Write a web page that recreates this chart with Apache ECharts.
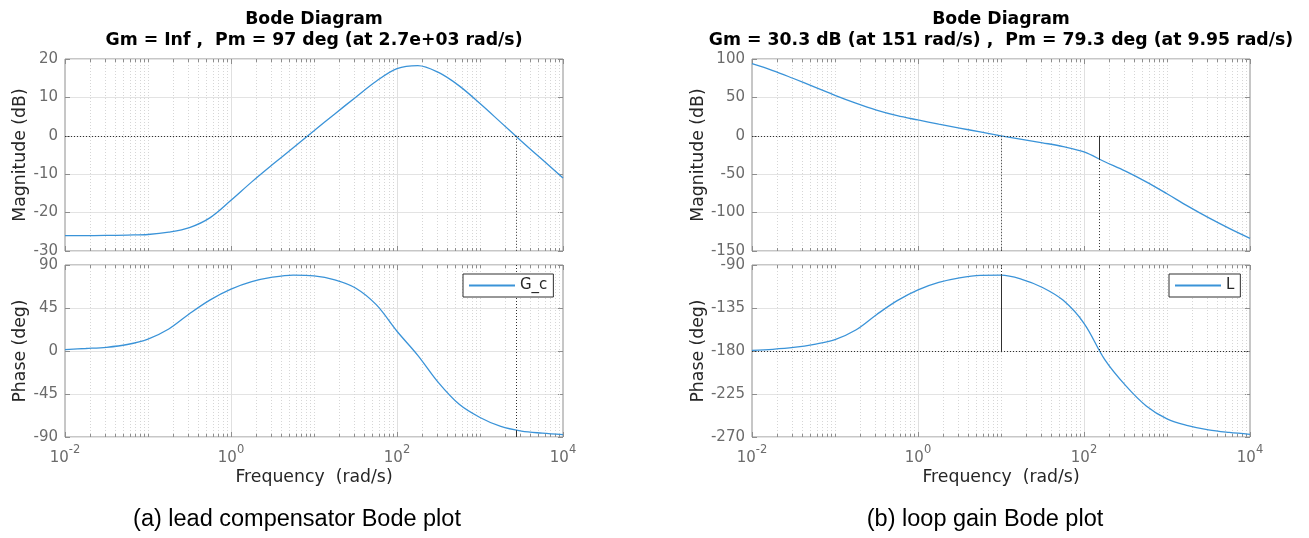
<!DOCTYPE html>
<html>
<head>
<meta charset="utf-8">
<script src="https://cdn.jsdelivr.net/npm/echarts@6/dist/echarts.min.js"></script>
<style>
html,body{margin:0;padding:0;background:#fff;}
#chart{width:1309px;height:538px;}
</style>
</head>
<body>
<div id="chart"></div>
<script>
// ---------- data ----------
// frequencies (rad/s) at which the curves were read, quarter-decade steps
const freqs = [0.01, 0.0178, 0.0316, 0.0562, 0.1, 0.178, 0.316, 0.562, 1, 1.78, 3.16, 5.62, 10, 17.8, 31.6, 56.2, 100, 178, 316, 562, 1000, 1780, 3160, 5620, 10000];
// (a) lead compensator G_c
const gcMagDb    = [-26.0, -26.0, -25.95, -25.85, -25.7, -25.1, -23.9, -21.3, -16.8, -12.0, -7.5, -3.1, 1.3, 5.7, 10.0, 14.2, 17.5, 18.3, 16.5, 13.0, 8.4, 3.5, -1.4, -6.2, -11.0];
const gcPhaseDeg = [1.5, 2.6, 3.9, 6.8, 12.5, 23, 39, 53.5, 64.7, 72.5, 77.2, 79.5, 78.7, 74.5, 66, 48.5, 20.7, -4.5, -33.1, -55.8, -69.6, -79, -83.8, -86, -87.6];
// (b) loop gain L
const lMagDb     = [93.9, 85.0, 74.6, 63.8, 52.7, 42.5, 33.5, 26.2, 20.6, 15.2, 10.1, 5.0, 0, -4.6, -9.1, -14.0, -21.0, -33.8, -46, -60, -75.5, -91.5, -106.5, -120.5, -133.5];
const lPhaseDeg  = [-179.3, -178.2, -176.3, -173, -168, -158, -142, -127.3, -116, -108.3, -103.5, -100.9, -100.7, -105, -113.5, -127, -151, -189, -216, -237.5, -251, -258, -262.5, -265.2, -267.2];

// stability margins (from the titles)
const gcCrossFreq = 2700;     // 0 dB crossing of G_c
const gcCrossPhase = -83;     // phase there (Pm = 97 deg)
const lCrossFreq = 9.95;      // 0 dB crossing of L
const lCrossPhase = -100.7;   // phase there (Pm = 79.3 deg)
const lPhase180Freq = 151;    // -180 deg crossing of L
const lPhase180Mag = -30.3;   // magnitude there (Gm = 30.3 dB)

// axis ticks
const xTickExponents = [-2, 0, 2, 4];
const gcMagTicks = [-30, 20, 10];     // min, max, step
const gcPhaseTicks = [-90, 90, 45];
const lMagTicks = [-150, 100, 50];
const lPhaseTicks = [-270, -90, 45];

// texts
const titles = [
  'Bode Diagram\nGm = Inf ,  Pm = 97 deg (at 2.7e+03 rad/s)',
  'Bode Diagram\nGm = 30.3 dB (at 151 rad/s) ,  Pm = 79.3 deg (at 9.95 rad/s)'
];
const captions = ['(a) lead compensator Bode plot', '(b) loop gain Bode plot'];
const seriesNames = ['G_c', 'L'];
const magLabel = 'Magnitude (dB)';
const phaseLabel = 'Phase (deg)';
const freqLabel = 'Frequency  (rad/s)';

// ---------- chart ----------
const FONT = 'DejaVu Sans';
const AX = '#8e8e8e';
const LINE = '#3a93d8';
const DARK = '#303030';

function zip(xs, ys) { return xs.map((x, i) => [x, ys[i]]); }

// minor/major x gridline positions (decoration of the log axis)
const xGridFreqs = [];
for (let k = -2; k < 4; k++) {
  for (let m = 1; m < 10; m++) xGridFreqs.push(m * Math.pow(10, k));
}
xGridFreqs.push(10000);

const grids = [
  {left: 65, top: 59, width: 498, height: 192},
  {left: 65, top: 265, width: 498, height: 172},
  {left: 752, top: 59, width: 498, height: 192},
  {left: 752, top: 265, width: 498, height: 172}
].map(g => Object.assign(g, {show: true, borderColor: AX, borderWidth: 1, backgroundColor: 'rgba(0,0,0,0)'}));

const xAxes = [0, 1, 2, 3].map(i => ({
  type: 'log', logBase: 10, gridIndex: i, min: 0.01, max: 10000,
  axisLine: {show: false}, axisTick: {show: false}, splitLine: {show: false},
  axisLabel: {
    show: i % 2 === 1,
    margin: 7,
    formatter: function (v) {
      const e = Math.round(Math.log10(v));
      if (Math.abs(v / Math.pow(10, e) - 1) > 1e-6) return '';
      if (xTickExponents.indexOf(e) < 0) return '';
      return '{b|10}{s|' + e + '}';
    },
    rich: {
      b: {fontFamily: FONT, fontSize: 15, color: '#6b6b6b', lineHeight: 22, verticalAlign: 'bottom'},
      s: {fontFamily: FONT, fontSize: 11.5, color: '#6b6b6b', lineHeight: 12, verticalAlign: 'top'}
    }
  },
  name: i % 2 === 1 ? freqLabel : '',
  nameLocation: 'middle', nameGap: 32,
  nameTextStyle: {fontFamily: FONT, fontSize: 17.3, color: '#262626'}
}));

function yPair(gi, ticks, name, nameGap) {
  const base = {type: 'value', gridIndex: gi, min: ticks[0], max: ticks[1], interval: ticks[2]};
  return [
    Object.assign({}, base, {
      position: 'left',
      axisLine: {show: false},
      axisTick: {show: true, inside: true, length: 5, lineStyle: {color: AX}},
      axisLabel: {color: '#6b6b6b', fontFamily: FONT, fontSize: 15, margin: 7},
      splitLine: {show: true, lineStyle: {color: '#e3e3e3', width: 1}},
      name: name, nameLocation: 'middle', nameGap: nameGap, nameRotate: 90,
      nameTextStyle: {fontFamily: FONT, fontSize: 17.3, color: '#262626'}
    }),
    Object.assign({}, base, {
      position: 'right',
      axisLine: {show: false},
      axisTick: {show: true, inside: true, length: 5, lineStyle: {color: AX}},
      axisLabel: {show: false},
      splitLine: {show: false}
    })
  ];
}

const yAxes = [].concat(
  yPair(0, gcMagTicks, magLabel, 36),
  yPair(1, gcPhaseTicks, phaseLabel, 36),
  yPair(2, lMagTicks, magLabel, 44),
  yPair(3, lPhaseTicks, phaseLabel, 44)
);

function gridDecor(gi, ticks) {
  const yMin = ticks[0], yMax = ticks[1];
  return {
    type: 'custom', xAxisIndex: gi, yAxisIndex: 2 * gi, coordinateSystem: 'cartesian2d',
    silent: true, z: 1, clip: false, encode: {x: 0, y: 1},
    data: xGridFreqs.map(f => [f, yMin]),
    renderItem: function (params, api) {
      const f = api.value(0);
      const e = Math.log10(f);
      const isDecade = Math.abs(e - Math.round(e)) < 1e-6;
      const isMajor = isDecade && xTickExponents.indexOf(Math.round(e)) >= 0;
      const pb = api.coord([f, yMin]);
      const pt = api.coord([f, yMax]);
      const x = Math.round(pb[0]) + 0.5;
      const atEdge = Math.abs(f / 0.01 - 1) < 1e-6 || Math.abs(f / 10000 - 1) < 1e-6;
      const children = [];
      if (!atEdge) {
        children.push({
          type: 'line', shape: {x1: x, y1: pt[1], x2: x, y2: pb[1]},
          style: isMajor ? {stroke: '#e0e0e0', lineWidth: 1} : {stroke: '#d6d6d6', lineWidth: 1, lineDash: [1, 2]}
        });
      }
      const len = isMajor ? 5 : 3;
      children.push({type: 'line', shape: {x1: x, y1: pb[1], x2: x, y2: pb[1] - len}, style: {stroke: AX, lineWidth: 1}});
      children.push({type: 'line', shape: {x1: x, y1: pt[1], x2: x, y2: pt[1] + len}, style: {stroke: AX, lineWidth: 1}});
      return {type: 'group', children: children};
    }
  };
}

const dotted = {color: DARK, width: 1, type: [1, 2]};
const solid = {color: DARK, width: 1, type: 'solid'};
function seg(x1, y1, x2, y2, style) {
  return [{coord: [x1, y1], lineStyle: style}, {coord: [x2, y2]}];
}
function markLines(items) {
  return {symbol: 'none', silent: true, label: {show: false}, emphasis: {disabled: true}, animation: false, data: items};
}

function curve(gi, name, data, mlItems) {
  return {
    type: 'line', name: name, xAxisIndex: gi, yAxisIndex: 2 * gi, data: data,
    showSymbol: false, smooth: 0.35, z: 3,
    lineStyle: {color: LINE, width: 1.3}, itemStyle: {color: LINE},
    markLine: markLines(mlItems)
  };
}

const series = [
  gridDecor(0, gcMagTicks), gridDecor(1, gcPhaseTicks), gridDecor(2, lMagTicks), gridDecor(3, lPhaseTicks),
  curve(0, seriesNames[0], zip(freqs, gcMagDb), [
    seg(0.01, 0, 10000, 0, dotted),
    seg(gcCrossFreq, 0, gcCrossFreq, gcMagTicks[0], dotted)
  ]),
  curve(1, seriesNames[0], zip(freqs, gcPhaseDeg), [
    seg(gcCrossFreq, gcPhaseTicks[1], gcCrossFreq, gcCrossPhase, dotted),
    seg(gcCrossFreq, gcCrossPhase, gcCrossFreq, gcPhaseTicks[0], solid)
  ]),
  curve(2, seriesNames[1], zip(freqs, lMagDb), [
    seg(0.01, 0, 10000, 0, dotted),
    seg(lCrossFreq, 0, lCrossFreq, lMagTicks[0], dotted),
    seg(lPhase180Freq, lPhase180Mag, lPhase180Freq, lMagTicks[0], dotted),
    seg(lPhase180Freq, 0, lPhase180Freq, lPhase180Mag, solid)
  ]),
  curve(3, seriesNames[1], zip(freqs, lPhaseDeg), [
    seg(0.01, -180, 10000, -180, dotted),
    seg(lPhase180Freq, lPhaseTicks[1], lPhase180Freq, -180, dotted),
    seg(lCrossFreq, lPhaseTicks[1], lCrossFreq, lCrossPhase, dotted),
    seg(lCrossFreq, lCrossPhase, lCrossFreq, -180, solid)
  ])
];

function legendAt(left, name) {
  return {
    data: [name], left: left, top: 274, orient: 'horizontal',
    icon: 'rect', itemWidth: 46, itemHeight: 2, itemGap: 5,
    padding: [4, 6, 4, 6], borderColor: DARK, borderWidth: 1, borderRadius: 0,
    backgroundColor: '#fff', selectedMode: false, z: 10,
    textStyle: {fontFamily: FONT, fontSize: 15, color: '#262626', padding: [0, 0, 0, 0]}
  };
}

const titleStyle = {fontFamily: FONT, fontSize: 17.3, fontWeight: 'bold', color: '#000', lineHeight: 21};
const capStyle = {fontFamily: 'Liberation Sans', fontSize: 23.5, fontWeight: 'normal', color: '#000'};

const option = {
  animation: false,
  backgroundColor: '#fff',
  title: [
    {text: titles[0], left: 314, top: 9, textAlign: 'center', padding: 0, textStyle: titleStyle},
    {text: titles[1], left: 1001, top: 9, textAlign: 'center', padding: 0, textStyle: titleStyle},
    {text: captions[0], left: 297, top: 508, textAlign: 'center', padding: 0, textStyle: capStyle},
    {text: captions[1], left: 985, top: 508, textAlign: 'center', padding: 0, textStyle: capStyle}
  ],
  legend: [legendAt(463, seriesNames[0]), legendAt(1169, seriesNames[1])],
  grid: grids,
  xAxis: xAxes,
  yAxis: yAxes,
  series: series
};

const chart = echarts.init(document.getElementById('chart'), null, {renderer: 'canvas'});
chart.setOption(option);
</script>
</body>
</html>
